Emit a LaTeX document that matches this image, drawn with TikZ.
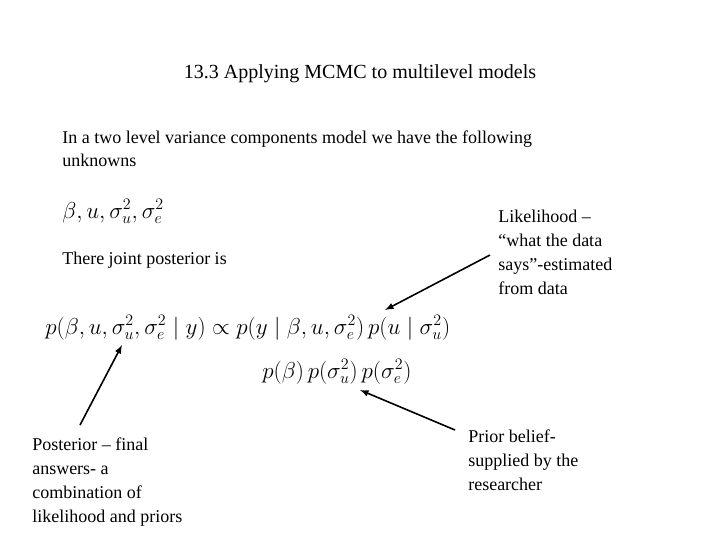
\documentclass[tikz,border=0pt]{standalone}
\usepackage{fontspec}
\setmainfont{Liberation Serif}
\begin{document}
\begin{tikzpicture}[x=0.75pt,y=-0.75pt,
  txt/.style={anchor=base west,inner sep=0pt,font=\fontsize{13.5}{18}\selectfont},
  frm/.style={anchor=base west,inner sep=0pt,font=\fontsize{17}{20}\selectfont},
  arr/.style={draw,line width=1.2pt,-latex}]
\useasboundingbox (0,0) rectangle (720,540);
\node[anchor=base,inner sep=0pt,font=\fontsize{15}{18}\selectfont] (title) at (360,78) {13.3 Applying MCMC to multilevel models};
\node[txt] (l1) at (62,143) {In a two level variance components model we have the following};
\node[txt] (l2) at (62,166) {unknowns};
\node[frm] (unk) at (62,218) {$\beta,u,\sigma_u^2,\sigma_e^2$};
\node[txt] (jp) at (62,264) {There joint posterior is};
\node[frm] (f1) at (45,334) {$p(\beta,u,\sigma_u^2,\sigma_e^2\mid y)\propto p(y\mid\beta,u,\sigma_e^2)\,p(u\mid\sigma_u^2)$};
\node[frm] (f2) at (262,378) {$p(\beta)\,p(\sigma_u^2)\,p(\sigma_e^2)$};
\node[txt,align=left,anchor=north west] (lik) at (498,210) {Likelihood --\\``what the data\\says''-estimated\\from data};
\node[txt,align=left,anchor=north west] (post) at (32,438) {Posterior -- final\\answers- a\\combination of\\likelihood and priors};
\node[txt,align=left,anchor=north west] (prior) at (468,430) {Prior belief-\\supplied by the\\researcher};
\coordinate (a1s) at (490,255); \coordinate (a1e) at (385,310);
\coordinate (a2s) at (80,425); \coordinate (a2e) at (122,345);
\coordinate (a3s) at (455,430); \coordinate (a3e) at (360,390);
\draw[arr] (a1s) -- (a1e);
\draw[arr] (a2s) -- (a2e);
\draw[arr] (a3s) -- (a3e);
\end{tikzpicture}
\end{document}
